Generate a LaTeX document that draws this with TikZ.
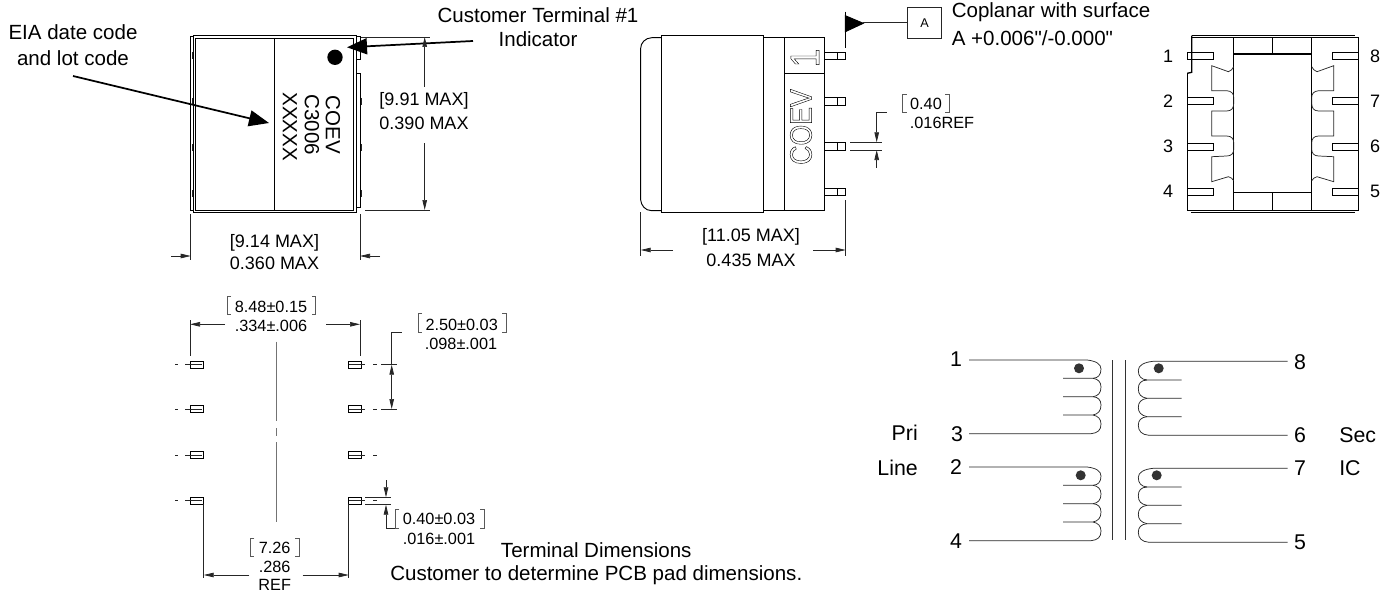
\documentclass[tikz,border=0pt]{standalone}
\usepackage{fontspec}
\setmainfont{Liberation Sans}[Ligatures=TeXOff]
\usetikzlibrary{arrows.meta}
\tikzset{
    lbl/.style={font=\fontsize{15.4}{18}\selectfont,inner sep=0pt},
    schem/.style={font=\fontsize{16}{18}\selectfont,inner sep=0pt},
    dimtxt/.style={font=\fontsize{13.5}{16}\selectfont,inner sep=0pt},
    smalltxt/.style={font=\fontsize{12.2}{14}\selectfont,inner sep=0pt},
    pinno/.style={font=\fontsize{13.5}{16}\selectfont,inner sep=0pt},
    part/.style={black,line width=0.7pt},
    fine/.style={black!85,line width=0.55pt},
    smalltip/.style={-{Triangle[length=7.5pt,width=3.4pt]}},
    bigtip/.style={-{Triangle[length=15pt,width=12pt]},black,line width=1.3pt},
    brk/.style={black!65,line width=0.7pt},
    pol/.style={circle,fill=black!80,inner sep=0pt,minimum size=7.5pt}
}
\newcommand{\hollow}{\special{pdf:code q 1 Tr 0.35 w}}
\begin{document}
\begin{tikzpicture}[x=0.75pt,y=-0.75pt]
    \useasboundingbox (0,0) rectangle (1395,592);

    % top view
    \draw[part] (193.3,35.7) rectangle (356.7,212);
    \draw[part] (195.3,38) rectangle (353.3,210);
    \draw[part] (274.7,38) -- (274.7,210);
    \draw[part] (193.3,36.7) -- (190.7,36.7) -- (190.7,210.7) -- (193.3,210.7);
    \draw[part] (356.7,36.7) -- (360,36.7) -- (360,59) -- (356.7,59);
    \draw[part] (356.7,73.3) -- (360,73.3) -- (360,207) -- (356.7,207);
    \foreach \y in {52,98,144,190}
        \draw[fine] (192,\y) -- (192,\y+7);
    \foreach \y in {98,144,190}
        \draw[fine] (361,\y) -- (361,\y+7);
    \node[circle,fill=black,inner sep=0pt,minimum size=11.5pt] (dotA) at (335,57.3) {};
    \node[lbl,rotate=-90] (coev) at (333,125) {COEV};
    \node[lbl,rotate=-90] (code) at (312,125) {C3006};
    \node[lbl,rotate=-90] (lot) at (290,126.7) {XXXXX};

    \node[lbl] (eia) at (73,32) {EIA date code};
    \node[lbl] (lotcode) at (73,58) {and lot code};
    \node[lbl] (cust) at (538,15) {Customer Terminal \#1};
    \node[lbl] (ind) at (538,39) {Indicator};
    \draw[bigtip] (73,76) -- (269,123);
    \draw[bigtip] (473,41) -- (347,47.3);

    % 9.91 dim
    \draw[fine] (361,37) -- (430,37);
    \draw[fine] (365,210) -- (430,210);
    \draw[fine,smalltip] (424.7,87) -- (424.7,37);
    \draw[fine,smalltip] (424.7,143) -- (424.7,210);
    \node[dimtxt] (hA) at (424,101) {[9.91 MAX]};
    \node[dimtxt] (hB) at (424,123) {0.390 MAX};

    % 9.14 dim
    \draw[fine] (190.7,214) -- (190.7,260);
    \draw[fine] (360,214) -- (360,260);
    \draw[fine,smalltip] (171,256) -- (190.7,256);
    \draw[fine,smalltip] (380,256) -- (360,256);
    \node[dimtxt] (wA) at (274.5,243) {[9.14 MAX]};
    \node[dimtxt] (wB) at (274.5,263) {0.360 MAX};

    % side view
    \draw[part] (661.3,35.7) rectangle (763.7,212);
    \draw[part] (661.3,37.7) -- (651.7,37.7) .. controls (645,38) and (640.7,43) .. (640.7,48.3)
        -- (640.7,200) .. controls (641,205) and (645,210.7) .. (651.7,210.7) -- (661.3,210.7);
    \draw[part] (763.7,37.7) -- (784.3,37.7);
    \draw[part] (763.7,210.7) -- (784.3,210.7);
    \draw[part] (784.3,37.7) rectangle (824.3,210.7);
    \draw[black,line width=1pt] (784.3,37.7) -- (784.3,210.7);
    \draw[part] (784.3,73.3) -- (824.3,73.3);
    \foreach \y in {52.3,97.7,142.7,188} {
        \draw[part] (824.3,\y) rectangle (845.7,\y+7.5);
        \draw[part] (837.3,\y) -- (837.3,\y+7.5);
    }
    \node[inner sep=0pt,rotate=90,font=\fontsize{31}{33}\selectfont,xscale=0.8] (markone) at (805,58) {\hollow 1\special{pdf:code Q}};
    \node[inner sep=0pt,rotate=90,font=\fontsize{23}{25}\selectfont,xscale=0.87] (markcoev) at (801,127) {\hollow COEV\special{pdf:code Q}};

    % datum A
    \draw[part] (845.3,11.7) -- (845.3,47.7);
    \draw[fill=black,part] (845.3,15.7) -- (863.3,23.3) -- (845.3,31.7) -- cycle;
    \node[draw,fine,text=black,font=\fontsize{9.5}{11}\selectfont,minimum width=25.5pt,minimum height=23pt,inner sep=0pt] (tagA) at (924.5,22.8) {A};
    \draw[fine] (tagA.west) -- (863.3,22.8);
    \node[lbl,anchor=west] (cop) at (951.5,12) {Coplanar with surface};
    \node[lbl,anchor=west] (copB) at (951.5,38) {A +0.006"/-0.000"};

    % 11.05 dim
    \draw[fine] (640.7,212) -- (640.7,256);
    \draw[fine] (845.7,200) -- (845.7,256);
    \draw[fine,smalltip] (673,250) -- (640.7,250);
    \draw[fine,smalltip] (813,250) -- (845.7,250);
    \node[dimtxt] (lenA) at (751,237) {[11.05 MAX]};
    \node[dimtxt] (lenB) at (751,260) {0.435 MAX};

    % 0.40 pin dim
    \draw[fine] (850,142.3) -- (881.7,142.3);
    \draw[fine] (850,150) -- (881.7,150);
    \draw[fine,smalltip] (886.7,112.3) -- (876.7,112.3) -- (876.7,142.3);
    \draw[fine,smalltip] (876.7,167.7) -- (876.7,150);
    \draw[brk] (906.7,94.3) -- (902.3,94.3) -- (902.3,112.3) -- (906.7,112.3);
    \draw[brk] (945,94.3) -- (949.3,94.3) -- (949.3,112.3) -- (945,112.3);
    \node[smalltxt] (pinA) at (926,104) {0.40};
    \node[smalltxt] (pinB) at (942,122.7) {.016REF};

    % end view
    \draw[part] (1187.3,73.3) -- (1187.3,210) -- (1358.3,210) -- (1358.3,37.3) -- (1191.7,37.3);
    \draw[black,line width=1pt] (1191.7,35.7) -- (1355,35.7);
    \draw[black,line width=1pt] (1191.7,35.7) -- (1191.7,72.3) -- (1187.3,73.3);
    \draw[part] (1191,212.3) -- (1355,212.3);
    \draw[part] (1233.7,37.3) -- (1233.7,210);
    \draw[part] (1311.7,37.3) -- (1311.7,210);
    \draw[black,line width=1pt] (1233.7,54) -- (1311.7,54);
    \draw[black,line width=1pt] (1233.7,192.7) -- (1311.7,192.7);
    \draw[part] (1272.7,37.3) -- (1272.7,54);
    \draw[part] (1272.7,192.7) -- (1272.7,210);
    \foreach \y in {52.7,97.3,143,188} {
        \draw[part] (1187.3,\y) rectangle (1213.3,\y+7);
        \draw[part] (1358.3,\y) rectangle (1332.7,\y+7);
    }
    \foreach \side in {1,-1} {
        \begin{scope}[shift={(1272.7,0)},xscale=\side]
            \draw[fine] (-39,66.7) .. controls (-40,69) and (-42,71) .. (-44.3,71.7) -- (-61,65.7) -- (-61,90.7) -- (-46,90.7)
                .. controls (-41,91) and (-39,94) .. (-39,97.3) -- (-39,103.3) .. controls (-39,108) and (-41,111) .. (-46,111)
                -- (-61,111) -- (-61,136) -- (-46,136) .. controls (-41,136) and (-39,139) .. (-39,142.7)
                -- (-39,149.3) .. controls (-39,153) and (-41,156) .. (-46,156) -- (-61,156.7) -- (-61,181.7)
                -- (-44.3,176.7) .. controls (-42,177) and (-40,179) .. (-39,180.7);
        \end{scope}
    }
    \node[pinno] (eA) at (1168,56.5) {1};
    \node[pinno] (eB) at (1168,101) {2};
    \node[pinno] (eC) at (1168,146) {3};
    \node[pinno] (eD) at (1168,191.5) {4};
    \node[pinno] (eE) at (1375,191.5) {5};
    \node[pinno] (eF) at (1375,146) {6};
    \node[pinno] (eG) at (1375,101) {7};
    \node[pinno] (eH) at (1375,56.5) {8};

    % pad layout
    \foreach \y in {361,405.7,451.7,497.3} {
        \draw[part] (190,\y) rectangle (203.7,\y+7);
        \draw[part] (348.7,\y) rectangle (361,\y+7);
        \draw[fine] (175,\y+3.5) -- (178.3,\y+3.5);
        \draw[fine] (185,\y+3.5) -- (201.7,\y+3.5);
        \draw[fine] (349.3,\y+3.5) -- (365,\y+3.5);
        \draw[fine] (373.3,\y+3.5) -- (376.7,\y+3.5);
    }
    \draw[black!55,line width=0.6pt] (276,341.7) -- (276,420.7);
    \draw[black!55,line width=0.6pt] (276,428.3) -- (276,435.7);
    \draw[black!55,line width=0.6pt] (276,442.3) -- (276,522.3);

    % 8.48 dim
    \draw[fine] (190,320) -- (190,356);
    \draw[fine] (360,320) -- (360,356);
    \draw[fine,smalltip] (225,324.3) -- (190,324.3);
    \draw[fine,smalltip] (326,324.3) -- (360,324.3);
    \draw[brk] (231,296.7) -- (227.3,296.7) -- (227.3,314.3) -- (231,314.3);
    \draw[brk] (312,296.7) -- (315.7,296.7) -- (315.7,314.3) -- (312,314.3);
    \node[smalltxt] (spanA) at (271,306.7) {8.48±0.15};
    \node[smalltxt] (spanB) at (271,326) {.334±.006};

    % 2.50 dim
    \draw[fine] (381,364.7) -- (396.7,364.7);
    \draw[fine] (381,409) -- (396.7,409);
    \draw[fine] (401.7,332.3) -- (391.7,332.3) -- (391.7,364.7);
    \draw[fine,{Triangle[length=7.5pt,width=3.4pt]}-{Triangle[length=7.5pt,width=3.4pt]}] (391.7,364.7) -- (391.7,409);
    \draw[brk] (422,313.3) -- (418.3,313.3) -- (418.3,332.3) -- (422,332.3);
    \draw[brk] (502.3,313.3) -- (506,313.3) -- (506,332.3) -- (502.3,332.3);
    \node[smalltxt] (pitchA) at (461.7,325) {2.50±0.03};
    \node[smalltxt] (pitchB) at (461,344) {.098±.001};

    % 0.40 pad dim
    \draw[fine] (365,497.3) -- (390.7,497.3);
    \draw[fine] (365,504.7) -- (390.7,504.7);
    \draw[fine,smalltip] (386,480) -- (386,497.3);
    \draw[fine,smalltip] (395,528.3) -- (386,528.3) -- (386,504.7);
    \draw[brk] (399.4,509.3) -- (395.7,509.3) -- (395.7,528.3) -- (399.4,528.3);
    \draw[brk] (480.3,509.3) -- (484,509.3) -- (484,528.3) -- (480.3,528.3);
    \node[smalltxt] (padA) at (439,519.3) {0.40±0.03};
    \node[smalltxt] (padB) at (439,539.3) {.016±.001};

    % 7.26 dim
    \draw[fine] (203.7,504) -- (203.7,578.3);
    \draw[fine] (348.7,504) -- (348.7,578.3);
    \draw[fine,smalltip] (249.3,575) -- (203.7,575);
    \draw[fine,smalltip] (302.7,575) -- (348.7,575);
    \draw[brk] (254.4,538.3) -- (250.7,538.3) -- (250.7,556.3) -- (254.4,556.3);
    \draw[brk] (295.3,538.3) -- (299,538.3) -- (299,556.3) -- (295.3,556.3);
    \node[smalltxt] (inA) at (274.7,547.7) {7.26};
    \node[smalltxt] (inB) at (274.7,566.7) {.286};
    \node[smalltxt] (inC) at (274.7,585) {REF};

    \node[lbl,anchor=west] (termA) at (500.7,550) {Terminal Dimensions};
    \node[lbl,anchor=west] (termB) at (390,575) {Customer to determine PCB pad dimensions.};

    % schematic
    \draw[black!80,line width=0.75pt] (1112,360) -- (1112,540);
    \draw[black!80,line width=0.75pt] (1125,360) -- (1125,540);
    \foreach \y in {360,467} {
        \draw[fine] (969,\y) -- (1087,\y) .. controls (1096,\y+1) and (1101,\y+4) .. (1101,\y+9)
            .. controls (1101,\y+15) and (1098,\y+18) .. (1093,\y+18.3) -- (1063,\y+18.3);
        \draw[fine] (1093,\y+18.3) .. controls (1098,\y+19) and (1101,\y+22) .. (1101,\y+27)
            .. controls (1101,\y+33) and (1098,\y+36) .. (1093,\y+36.7) -- (1063,\y+36.7);
        \draw[fine] (1093,\y+36.7) .. controls (1098,\y+37) and (1101,\y+40) .. (1101,\y+45)
            .. controls (1101,\y+51) and (1098,\y+54) .. (1093,\y+55) -- (1063,\y+55);
        \draw[fine] (1093,\y+55) .. controls (1098,\y+56) and (1101,\y+59) .. (1101,\y+64)
            .. controls (1101,\y+70) and (1098,\y+73) .. (1091,\y+73.7) -- (969,\y+73.7);
    }
    \foreach \y in {361.3,468.3} {
        \draw[fine] (1287.7,\y) -- (1153,\y) .. controls (1144,\y+1) and (1138.3,\y+4) .. (1138.3,\y+9)
            .. controls (1138.3,\y+15) and (1141,\y+18) .. (1147,\y+18.7) -- (1181.7,\y+18.7);
        \draw[fine] (1147,\y+18.7) .. controls (1141,\y+19) and (1138.3,\y+22) .. (1138.3,\y+27.5)
            .. controls (1138.3,\y+33) and (1141,\y+36) .. (1147,\y+37) -- (1181.7,\y+37);
        \draw[fine] (1147,\y+37) .. controls (1141,\y+38) and (1138.3,\y+41) .. (1138.3,\y+46)
            .. controls (1138.3,\y+51) and (1141,\y+54) .. (1147,\y+55.4) -- (1181.7,\y+55.4);
        \draw[fine] (1147,\y+55.4) .. controls (1141,\y+56) and (1138.3,\y+59) .. (1138.3,\y+64)
            .. controls (1138.3,\y+70) and (1142,\y+73.5) .. (1149,\y+74) -- (1287.7,\y+74);
    }
    \node[pol] (polA) at (1079,368.3) {};
    \node[pol] (polB) at (1158.7,368.3) {};
    \node[pol] (polC) at (1080.7,475.3) {};
    \node[pol] (polD) at (1156.7,475.3) {};
    \node[schem] (nA) at (956,359) {1};
    \node[schem] (nB) at (956,467) {2};
    \node[schem] (nC) at (957,434) {3};
    \node[schem] (nD) at (956,541) {4};
    \node[schem] (nE) at (1300,542) {5};
    \node[schem] (nF) at (1300,435) {6};
    \node[schem] (nG) at (1300,468) {7};
    \node[schem] (nH) at (1300,362) {8};
    \node[schem,anchor=east] (pri) at (918,433) {Pri};
    \node[schem,anchor=east] (line) at (918,468) {Line};
    \node[schem,anchor=west] (sec) at (1339,435) {Sec};
    \node[schem,anchor=west] (ic) at (1339,468) {IC};
\end{tikzpicture}
\end{document}
